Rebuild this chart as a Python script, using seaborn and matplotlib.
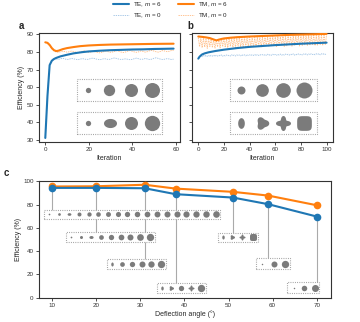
import numpy as np
import pandas as pd
import matplotlib
matplotlib.use("Agg")
import matplotlib.pyplot as plt
import seaborn as sns
from matplotlib.path import Path
from matplotlib.patches import Rectangle
from matplotlib.lines import Line2D

sns.set_theme(style="ticks")
plt.rcParams['font.family'] = ['Liberation Sans', 'DejaVu Sans']
plt.rcParams['mathtext.fontset'] = 'custom'
plt.rcParams['mathtext.it'] = 'Liberation Sans:italic'
plt.rcParams['mathtext.rm'] = 'Liberation Sans'

# ---------------- data ----------------
# panel a
a_te6_iter = [0, 1, 2, 3, 4, 5, 7, 10, 13, 17, 20, 25, 30, 35, 40, 45, 50, 55, 59]
a_te6 = [31.0, 55.0, 72.5, 75.0, 76.0, 76.6, 77.5, 78.4, 79.2, 79.9, 80.3, 80.7,
         81.0, 81.2, 81.4, 81.5, 81.7, 81.8, 81.9]
a_tm6_iter = [0, 1, 2, 3, 4, 5, 6, 8, 10, 13, 16, 20, 25, 30, 40, 50, 59]
a_tm6 = [85.5, 85.2, 84.0, 82.2, 81.0, 80.5, 80.7, 81.6, 82.2, 82.8, 83.3, 83.7,
         84.0, 84.2, 84.4, 84.6, 84.7]
a_te0 = [31.0, 55.0, 73.0, 75.5, 76.2, 76.0, 75.8, 76.1, 76.4, 76.0,
         75.7, 75.9, 76.3, 76.1, 75.8, 75.6, 75.9, 76.2, 76.0, 75.7,
         75.9, 76.3, 76.5, 76.1, 75.8, 75.6, 75.8, 76.2, 76.0, 75.7,
         75.9, 76.4, 76.6, 76.2, 75.9, 75.7, 75.9, 76.1, 75.8, 75.6,
         75.8, 76.2, 76.5, 76.1, 75.8, 75.9, 76.3, 76.0, 75.7, 75.9,
         76.4, 76.7, 76.3, 75.9, 75.7, 75.9, 76.2, 76.0, 75.7, 75.9]
a_tm0 = [85.5, 85.0, 83.5, 81.8, 80.6, 80.0, 79.8, 80.1, 80.4, 80.2,
         79.9, 80.1, 80.5, 80.3, 79.9, 79.7, 80.0, 80.4, 80.6, 80.2,
         79.8, 80.0, 80.3, 80.1, 79.7, 79.5, 79.8, 80.2, 80.5, 80.1,
         79.8, 80.0, 80.4, 80.7, 80.3, 79.9, 79.7, 80.0, 80.5, 80.8,
         80.4, 80.0, 79.8, 80.1, 80.6, 80.3, 79.9, 80.2, 80.7, 80.9,
         80.5, 80.1, 79.9, 80.3, 80.8, 80.5, 80.2, 80.4, 80.8, 80.9]

# panel b
b_te6_iter = [0, 1, 2, 3, 5, 8, 13, 20, 30, 40, 50, 60, 70, 80, 90, 100]
b_te6 = [76.2, 77.3, 78.0, 78.6, 79.2, 79.8, 80.5, 81.3, 82.2, 82.9, 83.4, 83.9,
         84.3, 84.7, 85.0, 85.3]
b_tm6_iter = [0, 3, 6, 9, 12, 14, 16, 18, 20, 25, 30, 40, 50, 60, 70, 80, 90, 100]
b_tm6 = [88.8, 88.6, 88.3, 87.9, 87.1, 86.6, 87.0, 87.4, 87.7, 88.1, 88.4, 88.8,
         89.1, 89.4, 89.7, 89.9, 90.1, 90.3]
b_tm0 = [88.0, 83.0, 87.6, 82.4, 87.9, 82.8, 87.2, 82.1, 87.7, 83.1,
         87.4, 82.5, 87.0, 82.2, 86.8, 82.9, 87.3, 82.3, 87.6, 83.0,
         87.8, 82.6, 87.5, 82.4, 87.9, 83.2, 87.6, 82.7, 88.0, 82.5,
         87.8, 83.3, 88.1, 82.8, 87.7, 82.6, 88.2, 83.1, 87.9, 82.9,
         88.3, 83.4, 88.0, 82.7, 88.2, 83.0, 88.4, 83.5, 88.1, 82.9,
         88.5, 83.2, 88.3, 83.6, 88.6, 83.0, 88.4, 83.3, 88.7, 83.7,
         88.5, 83.1, 88.8, 83.4, 88.6, 83.8, 88.9, 83.2, 88.7, 83.5,
         89.0, 83.9, 88.8, 83.3, 89.1, 83.6, 88.9, 84.0, 89.2, 83.4,
         89.0, 83.7, 89.3, 84.1, 89.1, 83.5, 89.4, 83.8, 89.2, 84.2,
         89.5, 83.6, 89.3, 83.9, 89.6, 84.3, 89.4, 83.7, 89.6, 84.0,
         89.7]
b_te0 = [76.5, 77.2, 77.9, 77.3, 78.0, 77.4, 78.1, 77.5, 78.0, 77.4,
         78.1, 77.6, 78.2, 77.5, 78.1, 77.6, 78.2, 77.7, 78.3, 77.6,
         78.2, 77.7, 78.3, 77.8, 78.2, 77.7, 78.4, 77.8, 78.3, 77.7,
         78.4, 77.9, 78.3, 77.8, 78.5, 77.9, 78.4, 77.8, 78.5, 78.0,
         78.4, 77.9, 78.5, 78.0, 78.6, 77.9, 78.5, 78.0, 78.6, 78.1,
         78.5, 78.0, 78.6, 78.1, 78.7, 78.0, 78.6, 78.1, 78.7, 78.2,
         78.6, 78.1, 78.7, 78.2, 78.8, 78.1, 78.7, 78.2, 78.8, 78.3,
         78.7, 78.2, 78.8, 78.3, 78.9, 78.2, 78.8, 78.3, 78.9, 78.4,
         78.8, 78.3, 78.9, 78.4, 79.0, 78.3, 78.9, 78.4, 79.0, 78.5,
         78.9, 78.4, 79.0, 78.5, 79.1, 78.4, 79.0, 78.5, 79.1, 78.6,
         79.0]

# panel c
c_angles = [10, 20, 31, 38, 51, 59, 70]
c_te = [94.3, 94.3, 94.0, 88.9, 86.0, 80.3, 69.7]
c_tm = [95.5, 95.7, 97.0, 93.7, 90.9, 87.7, 79.4]

legend_labels = ["TE, $m$ = 6", "TE, $m$ = 0", "TM, $m$ = 6", "TM, $m$ = 0"]

# ---------------- styles ----------------
BLUE = "#1f77b4"
ORANGE = "#ff7f0e"
LBLUE = "#a4c6e6"
LORANGE = "#ffc08c"
GRAY = "#7b7b7b"
BOXC = "#9a9a9a"
SPINE = "#333333"
PX = 0.72  # points per pixel at dpi 100


def polar_path(rfunc, sx=1.0, sy=1.0, n=120):
    t = np.linspace(0, 2 * np.pi, n)
    r = rfunc(t)
    v = np.column_stack([sx * r * np.cos(t), sy * r * np.sin(t)])
    return Path(v, closed=True)


_t = np.linspace(0, 2 * np.pi, 120)
SHAPES = {
    "o": "o",
    "eh": polar_path(lambda t: np.ones_like(t), 1.0, 0.7),
    "ev": polar_path(lambda t: np.ones_like(t), 0.62, 1.0),
    "tri": polar_path(lambda t: 1 + 0.2 * np.cos(3 * t)),
    "star": polar_path(lambda t: 1 + 0.28 * np.cos(4 * t)),
    "sq": Path(np.column_stack([
        np.sign(np.cos(_t)) * np.abs(np.cos(_t)) ** 0.5,
        np.sign(np.sin(_t)) * np.abs(np.sin(_t)) ** 0.5]), closed=True),
}


def draw_box(ax, x0, x1, y0, y1):
    ax.add_patch(Rectangle((x0, y0), x1 - x0, y1 - y0, facecolor="white",
                           edgecolor=BOXC, lw=0.8, linestyle=(0, (0.8, 1.2)),
                           zorder=2))


def draw_dots(ax, xs, y, diams, shapes):
    for x, d, s in zip(xs, diams, shapes):
        ax.scatter([x], [y], s=(d * PX) ** 2, marker=SHAPES[s], color=GRAY,
                   linewidths=0, zorder=3)


def style_axes(ax):
    for sp in ax.spines.values():
        sp.set_color(SPINE)
        sp.set_linewidth(0.8)
    ax.tick_params(labelsize=4.5, length=2.2, width=0.6, pad=1.5, colors=SPINE)


fig = plt.figure(figsize=(3.6, 3.22), dpi=100)
ax_a = fig.add_axes([0.108, 0.559, 0.392, 0.3385])
ax_b = fig.add_axes([0.533, 0.559, 0.392, 0.3385])
ax_c = fig.add_axes([0.108, 0.0755, 0.811, 0.3634])

# ---- panel a ----
sns.lineplot(x=np.arange(len(a_te0)), y=a_te0, ax=ax_a, color=LBLUE, lw=0.65,
             linestyle=(0, (1.5, 1)), estimator=None, zorder=3)
sns.lineplot(x=np.arange(len(a_tm0)), y=a_tm0, ax=ax_a, color=LORANGE, lw=0.65,
             linestyle=(0, (1.5, 1)), estimator=None, zorder=3)
sns.lineplot(x=a_te6_iter, y=a_te6, ax=ax_a, color=BLUE, lw=1.5, estimator=None, zorder=4)
sns.lineplot(x=a_tm6_iter, y=a_tm6, ax=ax_a, color=ORANGE, lw=1.5, estimator=None, zorder=4)
ax_a.set_xlim(-2.95, 61.95)
ax_a.set_ylim(28.7, 90.8)
ax_a.set_xticks([0, 20, 40, 60])
ax_a.set_yticks([30, 40, 50, 60, 70, 80, 90])
ax_a.set_xlabel("Iteration", fontsize=5, labelpad=2)
ax_a.set_ylabel("Efficiency (%)", fontsize=5, labelpad=1)
style_axes(ax_a)

draw_box(ax_a, 14.8, 53.9, 52.07, 64.35)
draw_dots(ax_a, [19.8, 29.45, 39.26, 49.0], 58.1, [5.3, 11.3, 13.0, 15.0],
          ["o", "o", "o", "o"])
draw_box(ax_a, 14.8, 53.9, 33.23, 45.68)
draw_dots(ax_a, [19.8, 29.7, 39.26, 49.0], 39.4, [5.3, 13.0, 13.0, 15.3],
          ["o", "eh", "o", "o"])

# ---- panel b ----
sns.lineplot(x=np.arange(len(b_tm0)), y=b_tm0, ax=ax_b, color=LORANGE, lw=0.65,
             linestyle=(0, (1.5, 1)), estimator=None, zorder=3)
sns.lineplot(x=np.arange(len(b_te0)), y=b_te0, ax=ax_b, color=LBLUE, lw=0.65,
             linestyle=(0, (1.5, 1)), estimator=None, zorder=3)
sns.lineplot(x=b_te6_iter, y=b_te6, ax=ax_b, color=BLUE, lw=1.5, estimator=None, zorder=4)
sns.lineplot(x=b_tm6_iter, y=b_tm6, ax=ax_b, color=ORANGE, lw=1.5, estimator=None, zorder=4)
ax_b.set_xlim(-5, 105)
ax_b.set_ylim(28.7, 90.8)
ax_b.set_xticks([0, 20, 40, 60, 80, 100])
ax_b.set_yticks([30, 40, 50, 60, 70, 80, 90])
ax_b.tick_params(labelleft=False)
ax_b.set_xlabel("Iteration", fontsize=5, labelpad=2)
ax_b.set_ylabel("")
style_axes(ax_b)

draw_box(ax_b, 24.85, 92.3, 52.07, 64.35)
draw_dots(ax_b, [33.3, 49.7, 65.8, 82.5], 58.1, [8.0, 12.7, 14.7, 16.0],
          ["o", "o", "o", "o"])
draw_box(ax_b, 24.85, 92.3, 33.0, 45.68)
draw_dots(ax_b, [33.3, 49.9, 65.8, 82.5], 39.3, [10.7, 13.5, 15.0, 14.7],
          ["ev", "tri", "star", "sq"])

# ---- panel c ----
sns.lineplot(x=c_angles, y=c_tm, ax=ax_c, color=ORANGE, lw=1.5, marker="o",
             markersize=5.5, markeredgewidth=0, estimator=None, zorder=5)
sns.lineplot(x=c_angles, y=c_te, ax=ax_c, color=BLUE, lw=1.5, marker="o",
             markersize=5.5, markeredgewidth=0, estimator=None, zorder=6)
ax_c.set_xlim(7.0, 73.2)
ax_c.set_ylim(0, 100.5)
ax_c.set_xticks([10, 20, 30, 40, 50, 60, 70])
ax_c.set_yticks([0, 20, 40, 60, 80, 100])
ax_c.set_xlabel("Deflection angle (°)", fontsize=5, labelpad=2)
ax_c.set_ylabel("Efficiency (%)", fontsize=5, labelpad=1)
style_axes(ax_c)

box_tops = [75.7, 56.0, 32.9, 12.85, 55.7, 34.3, 13.45]
ax_c.vlines(c_angles, box_tops, c_te, color="#aaaaaa", lw=0.8, zorder=1)

# box 1
draw_box(ax_c, 8.13, 48.1, 67.4, 75.7)
draw_dots(ax_c,
          [9.32, 11.58, 13.84, 16.03, 18.28, 20.47, 22.73, 24.90, 27.09, 29.28,
           31.54, 33.79, 36.05, 38.31, 40.47, 42.73, 44.99, 47.25], 71.6,
          [1.7, 2.7, 3.8, 4.0, 4.3, 4.6, 4.9, 5.1, 5.3, 5.5, 5.7, 5.9, 6.0, 6.1,
           6.2, 6.3, 6.4, 6.6],
          ["o", "o", "eh"] + ["o"] * 15)
# box 2
draw_box(ax_c, 13.25, 33.34, 47.5, 56.0)
draw_dots(ax_c, [14.38, 16.64, 18.89, 21.15, 23.25, 25.51, 27.70, 29.95, 32.21], 51.7,
          [1.7, 3.0, 4.2, 4.7, 5.3, 5.7, 6.0, 6.7, 7.3],
          ["o", "o", "eh"] + ["o"] * 6)
# box 3
draw_box(ax_c, 22.42, 35.82, 24.6, 32.9)
draw_dots(ax_c, [23.54, 25.89, 28.06, 30.32, 32.44, 34.70], 28.8,
          [4.0, 4.7, 5.3, 6.0, 6.3, 7.3], ["ev", "o", "o", "o", "o", "o"])
# box 4
draw_box(ax_c, 33.70, 44.85, 3.77, 12.85)
draw_dots(ax_c, [34.83, 36.95, 39.21, 41.47, 43.72], 8.3,
          [4.0, 5.0, 5.3, 6.0, 7.3], ["ev", "tri", "o", "star", "o"])
# box 5
draw_box(ax_c, 47.70, 56.73, 47.7, 55.7)
draw_dots(ax_c, [48.83, 50.86, 53.11, 55.53], 51.7,
          [4.0, 5.0, 6.0, 7.0], ["ev", "tri", "star", "sq"])
# box 6
draw_box(ax_c, 56.28, 64.04, 24.3, 34.3)
draw_dots(ax_c, [57.49, 60.27, 62.91], 29.3, [1.5, 6.0, 7.3], ["o", "o", "o"])
# box 7
draw_box(ax_c, 63.27, 70.59, 3.77, 13.45)
draw_dots(ax_c, [64.79, 67.11, 69.53], 8.6, [1.5, 5.5, 7.0], ["o", "o", "o"])

# ---- legend ----
handles = [
    Line2D([], [], color=BLUE, lw=1.5),
    Line2D([], [], color=LBLUE, lw=0.65, linestyle=(0, (1.5, 1))),
    Line2D([], [], color=ORANGE, lw=1.5),
    Line2D([], [], color=LORANGE, lw=0.65, linestyle=(0, (1.5, 1))),
]
fig.legend(handles, legend_labels, ncol=2, loc="center",
           bbox_to_anchor=(170.5 / 360, 1 - 10.5 / 322), fontsize=4.5,
           frameon=False, handlelength=2.6, columnspacing=2.6,
           labelspacing=0.45, handletextpad=0.6, borderpad=0)

# ---- panel letters ----
for txt, px, py in [("a", 21, 25.7), ("b", 190, 25.7), ("c", 6, 173.3)]:
    fig.text(px / 360, 1 - py / 322, txt, fontsize=7, fontweight="bold",
             ha="center", va="center")

fig.savefig("out.png", dpi=100)
